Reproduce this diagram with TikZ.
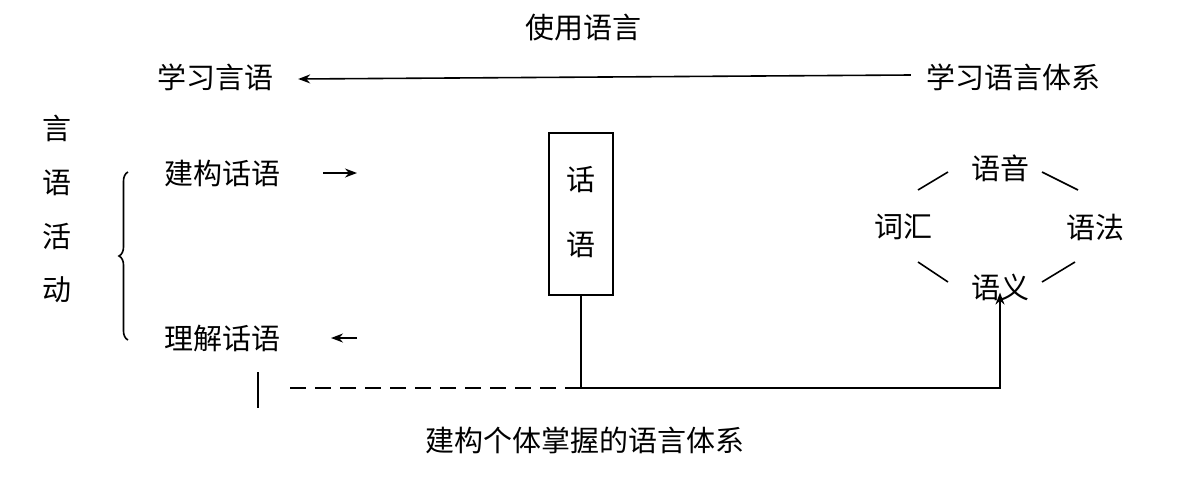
\documentclass[tikz,border=0pt]{standalone}
\usepackage{fontspec}
\newfontfamily\cjk{Noto Sans CJK SC}[Scale=1]
\usetikzlibrary{arrows.meta,decorations.pathreplacing}
\begin{document}
\begin{tikzpicture}[x=1pt,y=-1pt,
  lab/.style={font=\cjk\fontsize{29}{29}\selectfont,inner sep=0pt},
  ln/.style={line width=1.6pt},
  arr/.style={ln,-{Stealth[length=12pt,width=9pt]}}]
\useasboundingbox (0,0) rectangle (1193,483);
\node[lab] (use) at (583,28) {使用语言};
\node[lab] (xyy) at (215,77) {学习言语};
\node[lab] (xtx) at (1013,77) {学习语言体系};
\draw[arr] (xtx.west)+(-15,-2) coordinate (a1) -- ([xshift=25pt,yshift=-2pt]xyy.east);
\foreach \c/\y in {言/128,语/183,活/237,动/290} \node[lab] at (57,\y) {\c};
\draw[ln,decorate,decoration={brace,amplitude=9pt,mirror}] (128,172) -- (128,340);
\node[lab] (jg) at (222,173) {建构话语};
\node[lab] (lj) at (222,338) {理解话语};
\coordinate (j1) at (323,173); \coordinate (j2) at (357,173);
\draw[arr] (j1) -- (j2);
\coordinate (l1) at (357,338); \coordinate (l2) at (331,338);
\draw[arr] (l1) -- (l2);
\node[draw,ln,minimum width=64pt,minimum height=162pt,inner sep=0pt] (box) at (581,214) {};
\node[lab] at (581,180) {话};
\node[lab] at (581,245) {语};
\node[lab] (yy) at (1000,168) {语音};
\node[lab] (ch) at (903,227) {词汇};
\node[lab] (yf) at (1095,227) {语法};
\node[lab] (yi) at (1000,287) {语义};
\draw[ln] (918,190) -- (948,172);
\draw[ln] (1042,172) -- (1078,190);
\draw[ln] (918,262) -- (948,282);
\draw[ln] (1042,282) -- (1075,262);
\coordinate (c1) at (581,388); \coordinate (c2) at (1000,388);
\draw[arr] (box.south) -- (c1) -- (c2) -- ([yshift=8pt]yi.south);
\coordinate (d1) at (290,388);
\draw[ln,dash pattern=on 16pt off 9pt] (d1) -- (c1);
\coordinate (v1) at (258,372); \coordinate (v2) at (258,408);
\draw[ln] (v1) -- (v2);
\node[lab] (bot) at (585,440) {建构个体掌握的语言体系};
\end{tikzpicture}
\end{document}
